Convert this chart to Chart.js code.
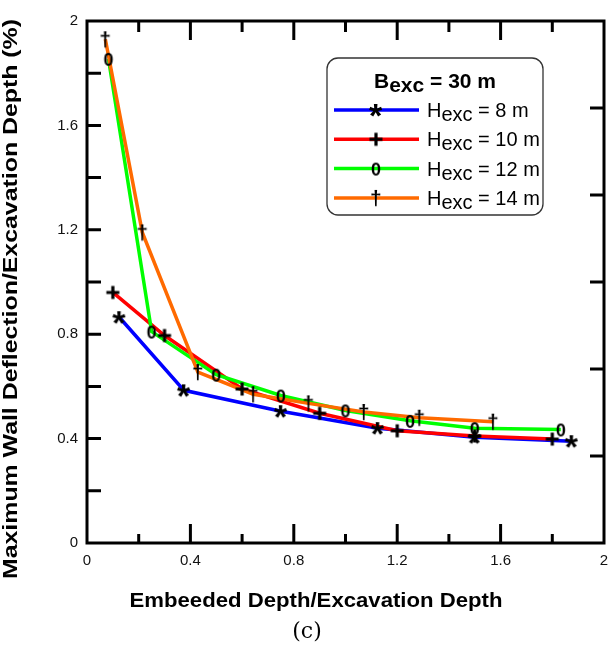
<!DOCTYPE html>
<html lang="en">
<head>
<meta charset="UTF-8">
<title>Maximum wall deflection vs embedded depth</title>
<script src="https://cdn.jsdelivr.net/npm/chart.js"></script>
<style>
  body { margin: 0; background: #fff; }
  #wrap { position: relative; width: 611px; height: 646px; }
</style>
</head>
<body>
<div id="wrap"><canvas id="chart" width="611" height="646"></canvas></div>
<script>
// x = embedded depth / excavation depth, y = max wall deflection / excavation depth (%)
const ratioH8  = [0.125, 0.375, 0.75, 1.125, 1.5, 1.875];
const deflH8   = [0.865, 0.585, 0.505, 0.44, 0.405, 0.39];
const ratioH10 = [0.1, 0.3, 0.6, 0.9, 1.2, 1.5, 1.8];
const deflH10  = [0.96, 0.795, 0.59, 0.497, 0.43, 0.41, 0.398];
const ratioH12 = [0.083, 0.25, 0.5, 0.75, 1.0, 1.25, 1.5, 1.833];
const deflH12  = [1.855, 0.81, 0.645, 0.565, 0.508, 0.468, 0.44, 0.435];
const ratioH14 = [0.071, 0.214, 0.429, 0.643, 0.857, 1.071, 1.286, 1.571];
const deflH14  = [1.93, 1.19, 0.655, 0.57, 0.535, 0.502, 0.48, 0.465];

const seriesNames  = ['= 8 m', '= 10 m', '= 12 m', '= 14 m'];
const seriesColors = ['#0000ff', '#ff0000', '#00ff00', '#ff6a00'];

const xTicks = [0, 0.4, 0.8, 1.2, 1.6, 2];
const xTickLabels = ['0', '0.4', '0.8', '1.2', '1.6', '2'];
const yTicks = [0, 0.4, 0.8, 1.2, 1.6, 2];
const yTickLabels = ['0', '0.4', '0.8', '1.2', '1.6', '2'];
const minorTicks = [0.2, 0.4, 0.6, 0.8, 1.0, 1.2, 1.4, 1.6, 1.8];
const rightTicks = [1/3, 2/3, 1, 4/3, 5/3];

const SANS = '"Liberation Sans", Arial, sans-serif';

// marker glyphs drawn into small canvases, used as point styles
function textGlyph(text, font) {
  const c = document.createElement('canvas');
  c.width = 26; c.height = 26;
  const g = c.getContext('2d');
  g.font = font;
  g.fillStyle = '#000';
  const m = g.measureText(text);
  const w = m.actualBoundingBoxLeft + m.actualBoundingBoxRight;
  const h = m.actualBoundingBoxAscent + m.actualBoundingBoxDescent;
  g.fillText(text, (26 - w) / 2 + m.actualBoundingBoxLeft, (26 - h) / 2 + m.actualBoundingBoxAscent);
  return c;
}
function plusGlyph() {
  const c = document.createElement('canvas');
  c.width = 26; c.height = 26;
  const g = c.getContext('2d');
  g.strokeStyle = '#000';
  g.lineWidth = 3.2;
  g.beginPath();
  g.moveTo(6.5, 13); g.lineTo(19.5, 13);
  g.moveTo(13, 6.5); g.lineTo(13, 19.5);
  g.stroke();
  return c;
}
const markers = [
  textGlyph('*', 'bold 34px ' + SANS),
  plusGlyph(),
  textGlyph('0', 'bold 18px ' + SANS),
  textGlyph('\u2020', 'bold 21px ' + SANS)
];

const xs = [ratioH8, ratioH10, ratioH12, ratioH14];
const ys = [deflH8, deflH10, deflH12, deflH14];
const pts = (x, y) => x.map((v, i) => ({ x: v, y: y[i] }));

const datasets = [];
xs.forEach((x, k) => {
  datasets.push({
    label: 'H ' + seriesNames[k],
    data: pts(x, ys[k]),
    borderColor: seriesColors[k],
    borderWidth: 3.5,
    pointRadius: 0,
    tension: 0,
    order: 4 - k
  });
});
xs.forEach((x, k) => {
  datasets.push({
    label: 'marker ' + seriesNames[k],
    data: pts(x, ys[k]),
    showLine: false,
    pointStyle: markers[k],
    pointRadius: 6,
    order: 0
  });
});

function roundBox(ctx, x, y, w, h, r) {
  ctx.beginPath();
  ctx.moveTo(x + r, y);
  ctx.arcTo(x + w, y, x + w, y + h, r);
  ctx.arcTo(x + w, y + h, x, y + h, r);
  ctx.arcTo(x, y + h, x, y, r);
  ctx.arcTo(x, y, x + w, y, r);
  ctx.closePath();
}

// text with a lowered "exc" part
function subText(ctx, parts, x, y, font) {
  ctx.font = font;
  let cx = x;
  parts.forEach(p => {
    ctx.fillText(p[0], cx, y + p[1]);
    cx += ctx.measureText(p[0]).width;
  });
}
function subWidth(ctx, parts, font) {
  ctx.font = font;
  return parts.reduce((s, p) => s + ctx.measureText(p[0]).width, 0);
}

const decor = {
  id: 'decor',
  afterDraw(chart) {
    const { ctx, chartArea: a, scales: { x, y } } = chart;
    ctx.save();
    ctx.strokeStyle = '#000';
    ctx.fillStyle = '#000';
    ctx.lineWidth = 3;
    ctx.lineCap = 'butt';

    // ticks
    ctx.beginPath();
    minorTicks.forEach(v => {
      const major = Math.abs(v / 0.4 - Math.round(v / 0.4)) < 1e-6;
      const px = x.getPixelForValue(v);
      ctx.moveTo(px, a.bottom); ctx.lineTo(px, a.bottom - (major ? 19 : 9));
      ctx.moveTo(px, a.top); ctx.lineTo(px, a.top + (major ? 19 : 11));
      const py = y.getPixelForValue(v);
      ctx.moveTo(a.left, py); ctx.lineTo(a.left + 14, py);
    });
    rightTicks.forEach(v => {
      const py = y.getPixelForValue(v);
      ctx.moveTo(a.right, py); ctx.lineTo(a.right - 14, py);
    });
    ctx.stroke();

    // frame
    ctx.lineJoin = 'miter';
    ctx.strokeRect(a.left, a.top, a.right - a.left, a.bottom - a.top);

    // axis titles
    ctx.textAlign = 'center';
    ctx.textBaseline = 'alphabetic';
    ctx.font = 'bold 21px ' + SANS;
    const xt = 'Embeeded Depth/Excavation Depth';
    let w = ctx.measureText(xt).width;
    ctx.save();
    ctx.translate(316, 607);
    ctx.scale(373 / w, 1);
    ctx.fillText(xt, 0, 0);
    ctx.restore();

    const yt = 'Maximum Wall Deflection/Excavation Depth (%)';
    w = ctx.measureText(yt).width;
    ctx.save();
    ctx.translate(17, 299);
    ctx.rotate(-Math.PI / 2);
    ctx.scale(560 / w, 1);
    ctx.fillText(yt, 0, 0);
    ctx.restore();

    ctx.font = '22px "DejaVu Serif", serif';
    ctx.fillText('(c)', 307, 638);

    // legend
    ctx.textAlign = 'left';
    roundBox(ctx, 327, 58, 216, 157, 11);
    ctx.fillStyle = '#fff';
    ctx.fill();
    ctx.lineWidth = 1.3;
    ctx.strokeStyle = '#333';
    ctx.stroke();
    ctx.fillStyle = '#000';

    const titleFont = 'bold 21px ' + SANS;
    const titleParts = [['B', 0], ['exc', 4], [' = 30 m', 0]];
    const tw = subWidth(ctx, titleParts, titleFont);
    subText(ctx, titleParts, 435 - tw / 2, 88, titleFont);

    const rowFont = '20px ' + SANS;
    for (let k = 0; k < 4; k++) {
      const ry = 110 + k * 29.3;
      ctx.strokeStyle = seriesColors[k];
      ctx.lineWidth = 3.5;
      ctx.beginPath();
      ctx.moveTo(334, ry); ctx.lineTo(419, ry);
      ctx.stroke();
      const m = markers[k];
      ctx.drawImage(m, 376 - m.width / 2, ry - m.height / 2);
      subText(ctx, [['H', 0], ['exc', 4], [' ' + seriesNames[k], 0]], 427, ry + 7, rowFont);
    }
    ctx.restore();
  }
};

new Chart(document.getElementById('chart'), {
  type: 'line',
  data: { datasets },
  options: {
    responsive: false,
    animation: false,
    devicePixelRatio: 1,
    layout: { padding: { top: 21, right: 4, left: 0, bottom: 0 } },
    plugins: { legend: { display: false }, tooltip: { enabled: false } },
    scales: {
      x: {
        type: 'linear', min: 0, max: 2,
        afterBuildTicks: s => { s.ticks = xTicks.map(v => ({ value: v })); },
        afterFit: s => { s.height = 103; s.paddingLeft = 0; s.paddingRight = 0; },
        grid: { display: false, drawTicks: false },
        border: { display: false },
        ticks: {
          padding: 9, maxRotation: 0, autoSkip: false, color: '#111',
          font: { family: SANS, size: 15 },
          callback: (v, i) => xTickLabels[i]
        }
      },
      y: {
        type: 'linear', min: 0, max: 2,
        afterBuildTicks: s => { s.ticks = yTicks.map(v => ({ value: v })); },
        afterFit: s => { s.width = 87; s.paddingTop = 0; s.paddingBottom = 0; },
        grid: { display: false, drawTicks: false },
        border: { display: false },
        ticks: {
          padding: 9, autoSkip: false, color: '#111',
          font: { family: SANS, size: 15 },
          callback: (v, i) => yTickLabels[i]
        }
      }
    }
  },
  plugins: [decor]
});
</script>
</body>
</html>
